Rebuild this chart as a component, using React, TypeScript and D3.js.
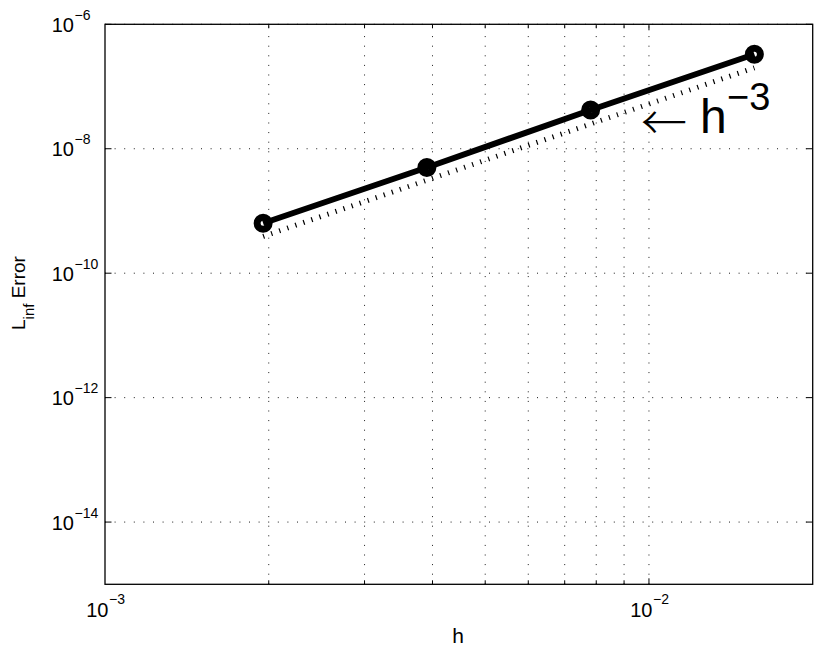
import React from "react";
import * as d3 from "d3";

const hValues = [1 / 512, 1 / 256, 1 / 128, 1 / 64];
const errorValues = [6.35e-10, 5.0e-9, 4.2e-8, 3.3e-7];
const refValues = [3.9e-10, 3.12e-9, 2.5e-8, 2.0e-7];
const yTickExponents = [-6, -8, -10, -12, -14];
const xTickExponents = [-3, -2];
const xGridValues = [2e-3, 3e-3, 4e-3, 5e-3, 6e-3, 7e-3, 8e-3, 9e-3, 1e-2];

const W = 822;
const H = 653;
const L = 105;
const R = 812.7;
const T = 24.3;
const B = 584.3;
const FONT = "'Liberation Sans', Arial, Helvetica, sans-serif";

export default function App() {
  const x = d3.scaleLog().domain([1e-3, 2e-2]).range([L, R]);
  const y = d3.scaleLog().domain([1e-15, 1e-6]).range([B, T]);
  const line = d3
    .line<number>()
    .x((_, i) => x(hValues[i]))
    .y((d) => y(d));

  const grid = { stroke: "#000", strokeWidth: 0.9, strokeDasharray: "1 8.6", fill: "none" };

  return (
    <svg width={W} height={H} style={{ position: "absolute", left: 0, top: 0, background: "#fff" }} fontFamily={FONT}>
      <rect x={0} y={0} width={W} height={H} fill="#fff" />
      {/* grid */}
      {xGridValues.map((v) => (
        <line key={"gx" + v} x1={x(v)} x2={x(v)} y1={B} y2={T} {...grid} />
      ))}
      {yTickExponents.map((e) => (
        <line key={"gy" + e} x1={L} x2={R} y1={y(Math.pow(10, e))} y2={y(Math.pow(10, e))} {...grid} />
      ))}
      {/* ticks */}
      {xGridValues.map((v) => {
        const major = Math.abs(Math.log10(v) - Math.round(Math.log10(v))) < 1e-9;
        const len = major ? 6 : 4;
        return (
          <g key={"tx" + v} stroke="#000" strokeWidth={1}>
            <line x1={x(v)} x2={x(v)} y1={B} y2={B - len} />
            <line x1={x(v)} x2={x(v)} y1={T} y2={T + len} />
          </g>
        );
      })}
      {yTickExponents.map((e) => {
        const yy = y(Math.pow(10, e));
        return (
          <g key={"ty" + e} stroke="#000" strokeWidth={1}>
            <line x1={L} x2={L + 6.5} y1={yy} y2={yy} />
            <line x1={R} x2={R - 6.5} y1={yy} y2={yy} />
          </g>
        );
      })}
      {/* axes box */}
      <rect x={L} y={T} width={R - L} height={B - T} fill="none" stroke="#000" strokeWidth={1.3} />
      {/* y tick labels */}
      {yTickExponents.map((e) => {
        const yy = y(Math.pow(10, e));
        return (
          <g key={"ly" + e}>
            <text x={74} y={yy + 7.5} fontSize={20} textAnchor="end" fill="#000">10</text>
            <text x={74.5} y={yy - 4.5} fontSize={14} textAnchor="start" fill="#000">{"\u2212" + Math.abs(e)}</text>
          </g>
        );
      })}
      {/* x tick labels */}
      {xTickExponents.map((e) => {
        const xx = x(Math.pow(10, e));
        return (
          <g key={"lx" + e}>
            <text x={xx + 3.5} y={616.7} fontSize={20} textAnchor="end" fill="#000">10</text>
            <text x={xx + 4} y={604} fontSize={14} textAnchor="start" fill="#000">{"\u2212" + Math.abs(e)}</text>
          </g>
        );
      })}
      {/* axis labels */}
      <text x={458} y={643} fontSize={21} textAnchor="middle" fill="#000">h</text>
      <g transform="translate(25,330) rotate(-90)">
        <text x={0} y={0} fontSize={19} fill="#000">
          L
          <tspan fontSize={15} dy={9}>inf</tspan>
          <tspan dy={-9}> Error</tspan>
        </text>
      </g>
      {/* reference h^3 line */}
      <path d={line(refValues) || ""} fill="none" stroke="#000" strokeWidth={5} strokeDasharray="1.2 7.3" />
      {/* data line */}
      <path d={line(errorValues) || ""} fill="none" stroke="#000" strokeWidth={6} strokeLinejoin="round" />
      {errorValues.map((v, i) => (
        <circle key={"m" + i} cx={x(hValues[i])} cy={y(v)} r={6} fill="none" stroke="#000" strokeWidth={7} />
      ))}
      {/* annotation */}
      <text x={641} y={139} fontSize={46} fontWeight={300} fill="#000"
        fontFamily="'Noto Sans CJK SC', sans-serif">{"\u2190"}</text>
      <text x={700} y={133} fontSize={48} fill="#000">h</text>
      <text x={727} y={110} fontSize={38} fill="#000">{"\u22123"}</text>
    </svg>
  );
}
